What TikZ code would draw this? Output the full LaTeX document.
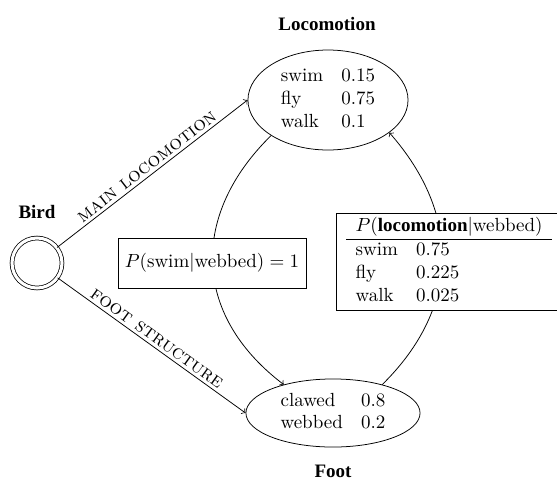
\documentclass[tikz,border=0pt]{standalone}
\usepackage{fontspec}
\newfontfamily\timesfam{Liberation Serif}
\newcommand\mytbf[1]{{\timesfam\bfseries #1}}
\setlength\tabcolsep{4.8pt}
\tikzset{
  elnode/.style={ellipse, draw, inner sep=0pt},
  boxnode/.style={draw, fill=white, rectangle},
  lbl/.style={font=\timesfam\bfseries},
  edge lbl/.style={midway, above, sloped, inner sep=1.5pt, font=\fontsize{10.5}{12}\selectfont\scshape},
}
\usetikzlibrary{shapes.geometric}
\begin{document}
\begin{tikzpicture}[x=0.526pt, y=-0.526pt]
\useasboundingbox (0,0) rectangle (557,480);
\clip (0,0) rectangle (557,480);
% nodes
\node[circle, draw, double, double distance=1.6pt, minimum size=26.3pt, inner sep=0pt] (bird) at (37,263) {};
\node[lbl] (birdlbl) at (37,212) {Bird};
\node[elnode, minimum width=84.2pt, minimum height=52.6pt] (loc) at (328,100)
  {\begin{tabular}{ll}swim & 0.15\\ fly & 0.75\\ walk & 0.1\end{tabular}};
\node[lbl] (loclbl) at (327,24) {Locomotion};
\node[elnode, minimum width=91.5pt, minimum height=35.8pt] (foot) at (333,413)
  {\begin{tabular}{ll}clawed & 0.8\\ webbed & 0.2\end{tabular}};
\node[lbl] (footlbl) at (333,471) {Foot};
% connectors
\draw[->] (bird) -- node[edge lbl] {main locomotion} (loc.west);
\draw[->] (bird) -- node[edge lbl] {foot structure} (foot.west);
\draw[->] (loc.212) .. controls (191,214) and (191,314) .. (foot.150);
\draw[->] (foot.30) .. controls (461,307) and (461,214) .. (loc.332);
% boxes on the curves
\node[boxnode, minimum width=98.9pt, minimum height=26.3pt, inner sep=2pt] (swimbox) at (212,263)
  {$P(\mbox{swim}|\mbox{webbed})=1$};
\node[boxnode, anchor=north west, inner xsep=5.3pt, inner ysep=1.3pt] (condbox) at (336,213)
  {\begin{tabular}{ll}\multicolumn{2}{l}{$P(\mbox{\mytbf{locomotion}}|\mbox{webbed})$\hspace{1.5pt}}\\ \hline
   swim & 0.75\\ fly & 0.225\\ walk & 0.025\end{tabular}\hspace{6pt}};
\end{tikzpicture}
\end{document}
